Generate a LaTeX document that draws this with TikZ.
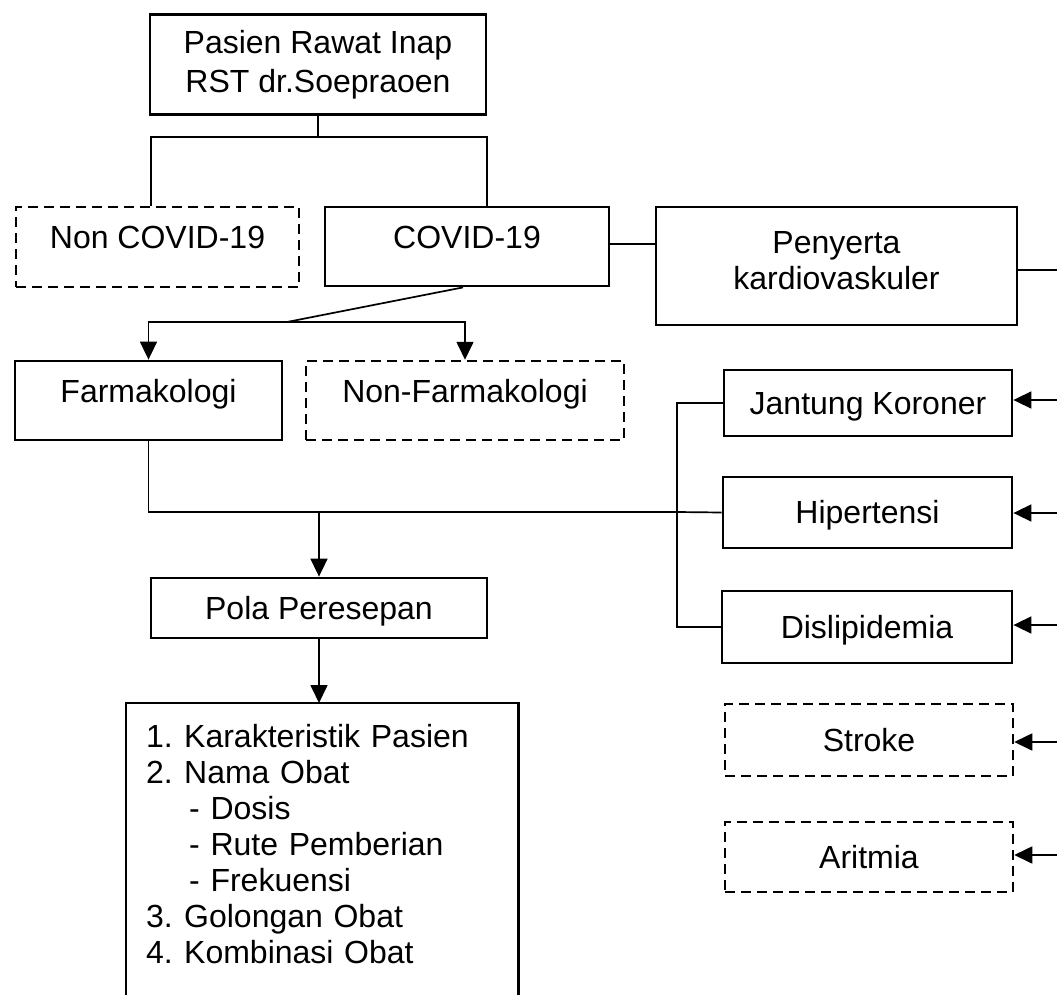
\documentclass[tikz,border=0pt]{standalone}
\usepackage{fontspec}
\setmainfont{Liberation Sans}
\usetikzlibrary{arrows.meta}
\begin{document}
\begin{tikzpicture}[x=1pt,y=-1pt,
  every node/.style={font=\fontsize{32}{36}\selectfont},
  solidbox/.style={draw, line width=2.8pt, inner sep=2pt, align=center},
  dashbox/.style={solidbox, line width=2.5pt, dash pattern=on 10pt off 6pt},
  upper/.style={text height=23pt, text depth=20pt},
  mid/.style={text height=23pt, text depth=1pt},
  conn/.style={line width=1.7pt},
  arr/.style={conn, -{Triangle[length=18pt,width=17pt]}}]
\useasboundingbox (0,0) rectangle (1057,995);

% nodes
\node[solidbox, minimum width=336pt, minimum height=100pt, font=\fontsize{32}{39}\selectfont] (pasien) at (318,64.5) {Pasien Rawat Inap\\RST dr.Soepraoen};
\node[dashbox, upper, minimum width=283pt, minimum height=80pt] (noncovid) at (157.5,247) {Non COVID-19};
\node[solidbox, upper, minimum width=284pt, minimum height=79pt] (covid) at (467,246.5) {COVID-19};
\node[solidbox, minimum width=361pt, minimum height=118pt] (penyerta) at (836.5,266) {Penyerta\\kardiovaskuler\\[-24pt]\mbox{}};
\node[solidbox, upper, minimum width=267pt, minimum height=79pt] (farma) at (148.5,400.5) {Farmakologi};
\node[dashbox, upper, minimum width=318pt, minimum height=79pt] (nonfarma) at (465,400.5) {Non-Farmakologi};
\node[solidbox, mid, minimum width=288pt, minimum height=66pt] (jantung) at (868,403) {Jantung Koroner};
\node[solidbox, mid, minimum width=289pt, minimum height=71pt] (hiper) at (867.5,512.5) {Hipertensi};
\node[solidbox, mid, minimum width=290pt, minimum height=72pt] (disli) at (867,627) {Dislipidemia};
\node[dashbox, mid, minimum width=288pt, minimum height=72pt] (stroke) at (869,740) {Stroke};
\node[dashbox, mid, minimum width=288pt, minimum height=70pt] (aritmia) at (869,857) {Aritmia};
\node[solidbox, mid, minimum width=336pt, minimum height=60pt] (pola) at (319,608) {Pola Peresepan};
\node[anchor=north west, inner xsep=20pt, inner ysep=21pt, text width=352pt, align=left] (list) at (126,703) {%
\makebox[38pt][l]{1.}Karakteristik Pasien\\
\makebox[38pt][l]{2.}Nama Obat\\
\hspace*{43pt}- Dosis\\
\hspace*{43pt}- Rute Pemberian\\
\hspace*{43pt}- Frekuensi\\
\makebox[38pt][l]{3.}Golongan Obat\\
\makebox[38pt][l]{4.}Kombinasi Obat};

% list box (open at the bottom, running off the page)
\coordinate (lb) at (0,1010);
\draw[line width=2.8pt] (list.north west |- lb) -- (list.north west) -- (list.north east) -- (list.north east |- lb);

% connectors
\coordinate (sL) at (151,137);
\coordinate (sR) at (487,137);
\draw[conn] (pasien.south) -- (pasien.south |- sL);
\draw[conn] (sL |- noncovid.north) -- (sL) -- (sR) -- (sR |- covid.north);
\coordinate (cp) at (0,244);
\draw[conn] (covid.east |- cp) -- (penyerta.west |- cp);
\coordinate (pr) at (1057,270);
\draw[conn] (pr -| penyerta.east) -- (pr);

\coordinate (fR) at (463,322);
\coordinate (kink) at (287,322);
\draw[conn] (fR |- covid.south) -- (kink);
\draw[arr] (kink) -| (farma.north);
\draw[arr] (kink) -| (nonfarma.north);

\coordinate (jn) at (677,512);
\draw[conn] (farma.south) |- (jn);
\draw[arr] (pola.north |- jn) -- (pola.north);
\draw[conn] (jantung.west) -| (jn) |- (disli.west);
\draw[conn] (jn) -- (hiper.west);

\draw[arr] (pola.south) -- (pola.south |- list.north);

\foreach \n/\y in {jantung/400, hiper/513, disli/625, stroke/742, aritmia/855}{
  \coordinate (r\n) at (1057,\y);
  \draw[arr] (r\n) -- (r\n -| \n.east);
}
\end{tikzpicture}
\end{document}
